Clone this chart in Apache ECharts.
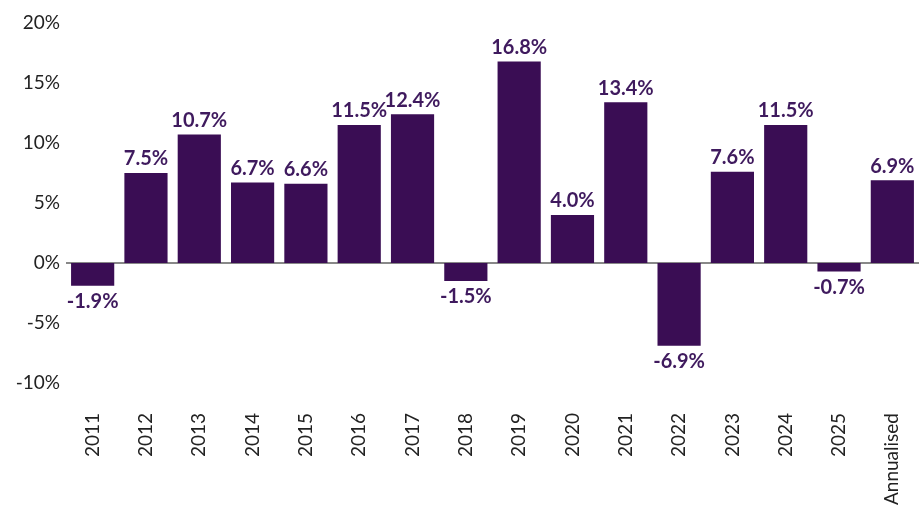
<!DOCTYPE html>
<html><head><meta charset="utf-8">
<script src="https://cdn.jsdelivr.net/npm/echarts@6/dist/echarts.min.js"></script>
<style>html,body{margin:0;padding:0;background:#fff}#c{width:919px;height:525px}</style>
</head><body><div id="c"></div>
<script>
const categories = ['2011','2012','2013','2014','2015','2016','2017','2018','2019','2020','2021','2022','2023','2024','2025','Annualised'];
const values = [-1.9, 7.5, 10.7, 6.7, 6.6, 11.5, 12.4, -1.5, 16.8, 4.0, 13.4, -6.9, 7.6, 11.5, -0.7, 6.9];
const yTicks = [-10, -5, 0, 5, 10, 15, 20];
const FONT = 'Lato, "Open Sans", sans-serif';
const chart = echarts.init(document.getElementById('c'));
chart.setOption({
  animation: false,
  grid: {left: 66, right: -4, top: 23, bottom: 142, containLabel: false},
  xAxis: {
    type: 'category', data: categories,
    axisLine: {show: false}, axisTick: {show: false},
    axisLabel: {rotate: 90, margin: 30, fontSize: 19, color: '#222', fontFamily: FONT, interval: 0}
  },
  yAxis: {
    type: 'value', min: yTicks[0], max: yTicks[yTicks.length-1], interval: 5,
    axisLine: {show: false}, axisTick: {show: false},
    axisLabel: {formatter: v => v + '%', fontSize: 19, color: '#222', fontFamily: FONT, margin: 6},
    splitLine: {show: true, lineStyle: {width: 2, color: yTicks.map(t => t === 0 ? '#888' : 'rgba(0,0,0,0)')}}
  },
  series: [{
    type: 'bar', barCategoryGap: '19%',
    data: values.map(v => ({
      value: v,
      label: {position: v < 0 ? 'bottom' : 'top', distance: v < 0 ? 6 : 4}
    })),
    itemStyle: {color: '#3a0d54'},
    label: {show: true, formatter: p => p.value.toFixed(1) + '%', fontSize: 20, fontWeight: 'bold', color: '#3f1a5e', fontFamily: FONT}
  }]
});
</script></body></html>
